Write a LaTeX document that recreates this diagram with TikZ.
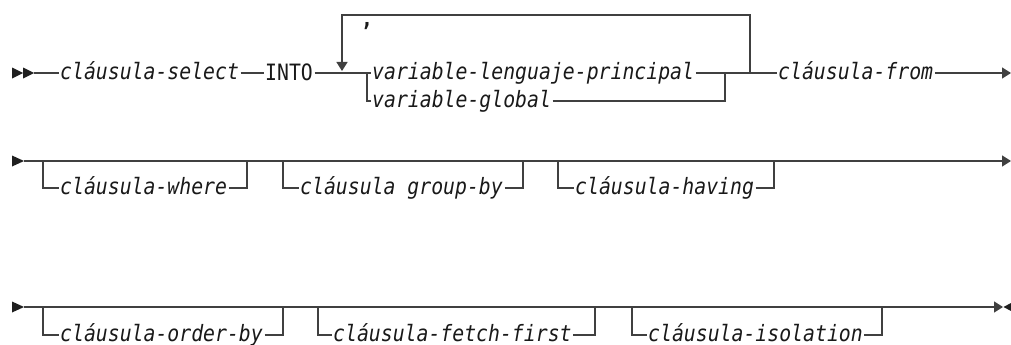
\documentclass[tikz,border=0pt]{standalone}
\usepackage{fontspec}
\newfontfamily\railfont[FakeStretch=0.88]{DejaVu Sans Mono}
\usetikzlibrary{arrows.meta}
\tikzset{
  rail/.style={draw=black!75, line width=1.3pt},
  tip/.style={-{Triangle[length=9pt,width=11pt]}},
  lbl/.style={font={\railfont\fontsize{22.5pt}{25pt}\selectfont\itshape}, text=black!90, inner xsep=1.5pt, inner ysep=0pt, text height=12.2pt, text depth=0pt, anchor=west},
  kw/.style={lbl, font={\railfont\fontsize{22.5pt}{25pt}\selectfont\upshape}, text height=16pt},
  endmark/.style={fill=black!88},
}
\begin{document}
\begin{tikzpicture}[x=1pt,y=-1pt]
\useasboundingbox (0,0) rectangle (1011,345);
% ---------- row 1 ----------
\fill[endmark] (12,67.5) -- (23,73) -- (12,78.5) -- cycle;
\fill[endmark] (23,67.5) -- (34,73) -- (23,78.5) -- cycle;
\coordinate (s1) at (34,73);
\node[lbl] (sel) at (58.5,73) {cláusula-select};
\node[kw] (into) at (263.5,73) {INTO};
\coordinate (b1) at (367,73);
\node[lbl] (vlp) at (370.5,73) {variable-lenguaje-principal};
\node[lbl] (vg) at (370.5,101) {variable-global};
\coordinate (j1) at (725,73);
\coordinate (lp) at (750,73);
\coordinate (lt) at (750,15);
\coordinate (la) at (342,73);
\node[lbl] (from) at (776.5,73) {cláusula-from};
\coordinate (e1) at (1011,73);
\node[font={\railfont\fontsize{22.5pt}{25pt}\selectfont\bfseries}, text=black!90, inner sep=0pt, anchor=base] (comma) at (367,27) {,};

\draw[rail] (s1) -- (sel.west);
\draw[rail] (sel.east) -- (into.west);
\draw[rail] (into.east) -- (vlp.west);
\draw[rail] (b1) |- (vg.west);
\draw[rail] (vlp.east) -- (from.west);
\draw[rail] (vg.east) -| (j1);
\draw[rail,tip,shorten >=2pt] (lp) -- (lt) -| (la);
\draw[rail,tip] (from.east) -- (e1);

% ---------- row 2 ----------
\fill[endmark] (12,155.5) -- (24,161) -- (12,166.5) -- cycle;
\coordinate (s2) at (24,161);
\coordinate (e2) at (1011,161);
\draw[rail,tip] (s2) -- (e2);
\coordinate (w1) at (43,161);  \coordinate (w2) at (247,161);
\node[lbl] (where) at (58.5,188) {cláusula-where};
\draw[rail] (w1) |- (where.west);
\draw[rail] (where.east) -| (w2);
\coordinate (g1) at (283,161); \coordinate (g2) at (523,161);
\node[lbl] (group) at (298.5,188) {cláusula group-by};
\draw[rail] (g1) |- (group.west);
\draw[rail] (group.east) -| (g2);
\coordinate (h1) at (558,161); \coordinate (h2) at (774,161);
\node[lbl] (having) at (573.5,188) {cláusula-having};
\draw[rail] (h1) |- (having.west);
\draw[rail] (having.east) -| (h2);

% ---------- row 3 ----------
\fill[endmark] (12,301.5) -- (24,307) -- (12,312.5) -- cycle;
\coordinate (s3) at (24,307);
\coordinate (e3) at (1003,307);
\draw[rail,tip] (s3) -- (e3);
\fill[endmark] (1011,303) -- (1003.5,307) -- (1011,311) -- cycle;
\coordinate (o1) at (43,307);  \coordinate (o2) at (283,307);
\node[lbl] (order) at (58.5,335) {cláusula-order-by};
\draw[rail] (o1) |- (order.west);
\draw[rail] (order.east) -| (o2);
\coordinate (f1) at (318,307); \coordinate (f2) at (595,307);
\node[lbl] (fetch) at (331.5,335) {cláusula-fetch-first};
\draw[rail] (f1) |- (fetch.west);
\draw[rail] (fetch.east) -| (f2);
\coordinate (i1) at (632,307); \coordinate (i2) at (882,307);
\node[lbl] (iso) at (646.5,335) {cláusula-isolation};
\draw[rail] (i1) |- (iso.west);
\draw[rail] (iso.east) -| (i2);
\end{tikzpicture}
\end{document}
